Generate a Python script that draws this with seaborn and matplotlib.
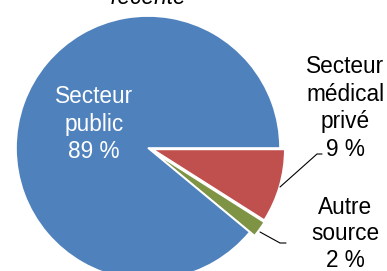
import matplotlib
matplotlib.use("Agg")
import matplotlib.pyplot as plt
import seaborn as sns

# Data
categories = ["Secteur médical privé", "Autre source", "Secteur public"]
values = [9, 2, 89]
label_texts = ["Secteur\nmédical\nprivé\n9 %", "Autre\nsource\n2 %", "Secteur\npublic\n89 %"]
title_text = "récente"

sns.set_theme(style="white")
plt.rcParams["font.family"] = ["Liberation Sans", "DejaVu Sans"]

colors = ["#C0504D", "#7E9444", "#4F81BD"]

W, H = 387, 271
fig = plt.figure(figsize=(W / 100, H / 100), dpi=100)
ax = fig.add_axes([0, 0, 1, 1])

def Y(y):
    return H - y

cx, cy, r = 148, 148, 132
# explode is in data units (pixels here)
ax.pie(values, colors=colors, startangle=0, counterclock=False,
       explode=[5, 6, 0], center=(cx, Y(cy)), radius=r,
       wedgeprops=dict(edgecolor="white", linewidth=1.2))

ax.set_xlim(0, W)
ax.set_ylim(0, H)
ax.set_aspect("auto")
ax.axis("off")

fs = 16.3
ls = 1.27
# inside label
ax.text(94, Y(124), label_texts[2], color="white", fontsize=fs, ha="center",
        va="center", linespacing=ls, multialignment="center")
# outside labels
ax.text(345, Y(108), label_texts[0], color="black", fontsize=fs, ha="center",
        va="center", linespacing=ls, multialignment="center")
ax.text(345, Y(234), label_texts[1], color="black", fontsize=fs, ha="center",
        va="center", linespacing=1.18, multialignment="center")

# leader lines
ax.plot([280, 317, 322], [Y(187), Y(154), Y(154)], color="black", lw=0.8)
ax.plot([260, 280, 286], [Y(232), Y(243), Y(243)], color="black", lw=0.8)

# title (cut off at top, as in the reference)
ax.text(148, Y(4), title_text, fontsize=fs, style="italic", ha="center",
        va="baseline", color="black")

fig.savefig("out.png", dpi=100)
